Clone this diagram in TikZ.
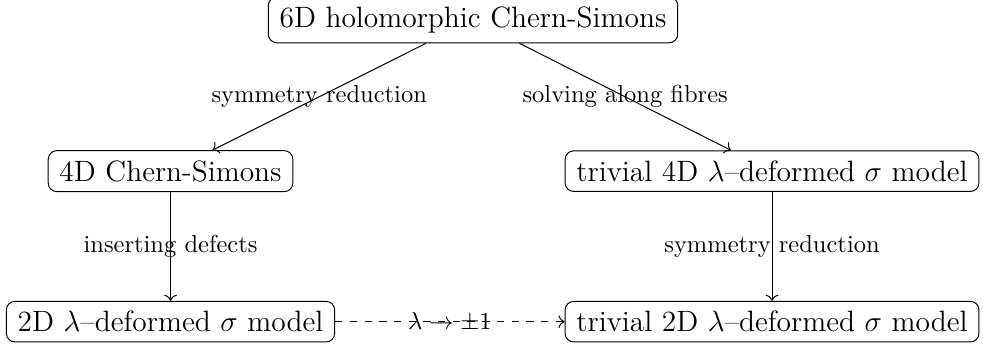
\documentclass[tikz,border=0pt]{standalone}
\usepackage{xcolor}
\usetikzlibrary{arrows.meta,positioning}
\tikzset{
  arrow/.style={->, draw=black, line width=0.4pt},
  dashArrow/.style={->, draw=black, dashed, line width=0.4pt},
  theory/.style={rectangle, rounded corners=3.5pt, draw=black, line width=0.4pt, fill=none, align=center, inner xsep=4.6pt, inner ysep=4pt, font=\large},
  flowLabel/.style={font=\normalsize, inner sep=2pt}
}

\begin{document}
\begin{tikzpicture}[x=1cm,y=1cm]

\useasboundingbox (0,0) rectangle (14.10,5.006);

% --------------------------------------------------------------------------
% Reductions from 6D holomorphic Chern-Simons
% --------------------------------------------------------------------------
\node[theory] (holo6d) at (6.785,4.722) {6D holomorphic Chern-Simons};

\node[theory] (cs4d) at (2.446,2.551) {4D Chern-Simons};
\node[theory] (triv4d) at (11.074,2.551) {trivial 4D $\lambda$--deformed $\sigma$ model};

\node[theory] (lam2d) at (2.446,0.392) {2D $\lambda$--deformed $\sigma$ model};
\node[theory] (triv2d) at (11.074,0.392) {trivial 2D $\lambda$--deformed $\sigma$ model};

\draw[arrow] (holo6d) -- node[flowLabel] {symmetry reduction} (cs4d);
\draw[arrow] (holo6d) -- node[flowLabel] {solving along fibres} (triv4d);
\draw[arrow] (cs4d) -- node[flowLabel] {inserting defects} (lam2d);
\draw[arrow] (triv4d) -- node[flowLabel] {symmetry reduction} (triv2d);
\draw[dashArrow] (lam2d) -- node[flowLabel] {$\lambda\to\pm1$} (triv2d);

\end{tikzpicture}
\end{document}
